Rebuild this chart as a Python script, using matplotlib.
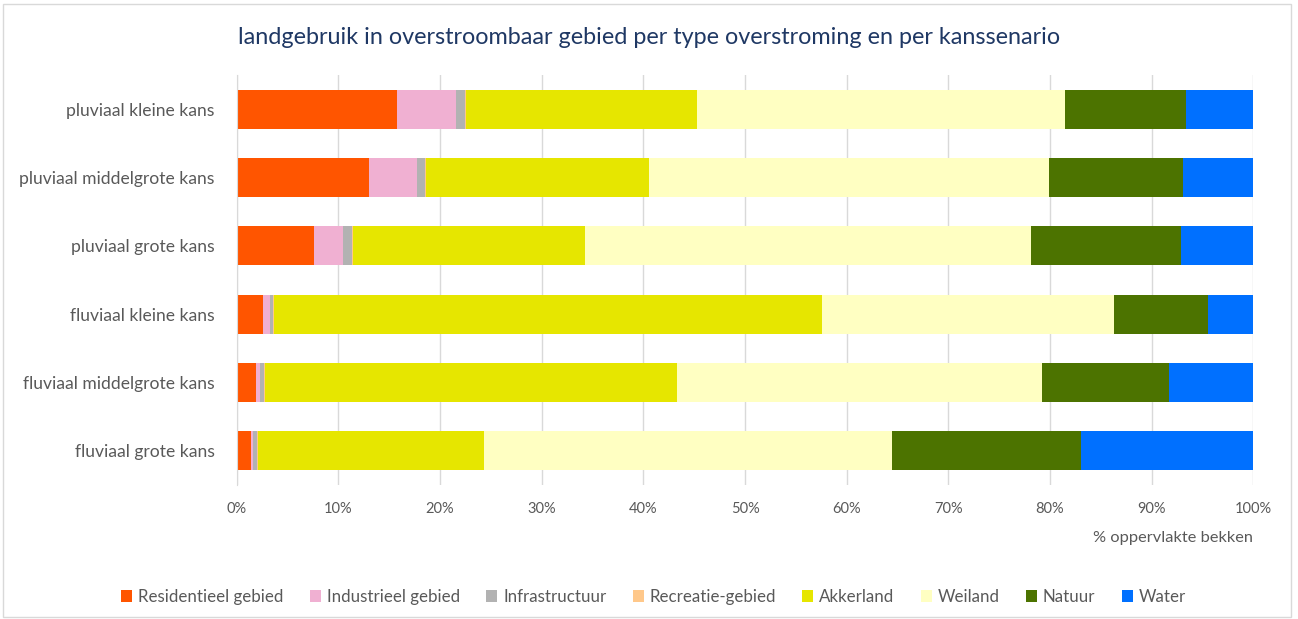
import numpy as np
import matplotlib.pyplot as plt
from matplotlib.patches import Rectangle
from matplotlib.ticker import PercentFormatter

plt.rcParams['font.family'] = ['Lato', 'DejaVu Sans']

# scenarios, top to bottom as in the chart
scenarios = ['pluviaal kleine kans', 'pluviaal middelgrote kans', 'pluviaal grote kans',
             'fluviaal kleine kans', 'fluviaal middelgrote kans', 'fluviaal grote kans']

categories = ['Residentieel gebied', 'Industrieel gebied', 'Infrastructuur', 'Recreatie-gebied',
              'Akkerland', 'Weiland', 'Natuur', 'Water']

# share of area (%) per land use, per scenario
residentieel = [15.8, 13.0, 7.6, 2.6, 1.9, 1.4]
industrieel = [5.8, 4.7, 2.9, 0.7, 0.4, 0.2]
infrastructuur = [0.9, 0.8, 0.8, 0.3, 0.4, 0.4]
recreatie = [0.1, 0.1, 0.1, 0.05, 0.05, 0.05]
akkerland = [22.7, 22.0, 22.9, 53.9, 40.6, 22.3]
weiland = [36.2, 39.3, 43.8, 28.7, 35.9, 40.1]
natuur = [11.9, 13.2, 14.8, 9.3, 12.5, 18.6]
water = [6.6, 6.9, 7.1, 4.5, 8.3, 16.9]

colors = ['#FF5500', '#F0B0D2', '#B2B2B2', '#FFC88A', '#E6E600', '#FFFFC2', '#4C7300', '#0070FF']

series = [residentieel, industrieel, infrastructuur, recreatie, akkerland, weiland, natuur, water]

fig = plt.figure(figsize=(12.98, 6.19), dpi=100)
ax = fig.add_axes([236.7 / 1298, 1 - 485 / 619, (1253.3 - 236.7) / 1298, 410 / 619])

# light frame around the whole chart
fig.patches.append(Rectangle((3 / 1298, 2 / 619), 1288 / 1298, 613 / 619, transform=fig.transFigure,
                             fill=False, edgecolor='#D9D9D9', linewidth=1))

y = np.arange(len(scenarios))
left = np.zeros(len(scenarios))
for vals, name, col in zip(series, categories, colors):
    vals = np.array(vals)
    ax.barh(y, vals, left=left, height=0.57, color=col, label=name, linewidth=0)
    left += vals

ax.set_ylim(len(scenarios) - 0.5, -0.5)
ax.set_xlim(0, 100)
ax.set_xticks(np.arange(0, 101, 10))
ax.xaxis.set_major_formatter(PercentFormatter(decimals=0))
ax.set_yticks(y)
ax.set_yticklabels(scenarios)

ax.grid(axis='x', color='#D9D9D9', linewidth=1)
ax.set_axisbelow(True)
for s in ['top', 'right', 'bottom']:
    ax.spines[s].set_visible(False)
ax.spines['left'].set_color('#D9D9D9')
ax.tick_params(axis='y', length=0, pad=16, labelsize=12.6, labelcolor='#595959')
ax.tick_params(axis='x', length=0, pad=12, labelsize=10.5, labelcolor='#595959')

ax.text(1.0, -53 / 410, '% oppervlakte bekken', transform=ax.transAxes, ha='right', va='center',
        fontsize=11.8, color='#595959')

fig.text(0.5 * (237 + 1062) / 1298, 1 - 38 / 619,
         'landgebruik in overstroombaar gebied per type overstroming en per kanssenario',
         ha='center', va='center', fontsize=16.8, color='#1F3864')

fig.legend(loc='center', bbox_to_anchor=(0.5 * (112 + 1195) / 1298, 1 - 597 / 619), ncol=8,
           frameon=False, fontsize=12.2, handlelength=0.65, handleheight=0.65, handletextpad=0.35,
           columnspacing=1.55, labelcolor='#595959')

fig.savefig('out.png', dpi=100)
